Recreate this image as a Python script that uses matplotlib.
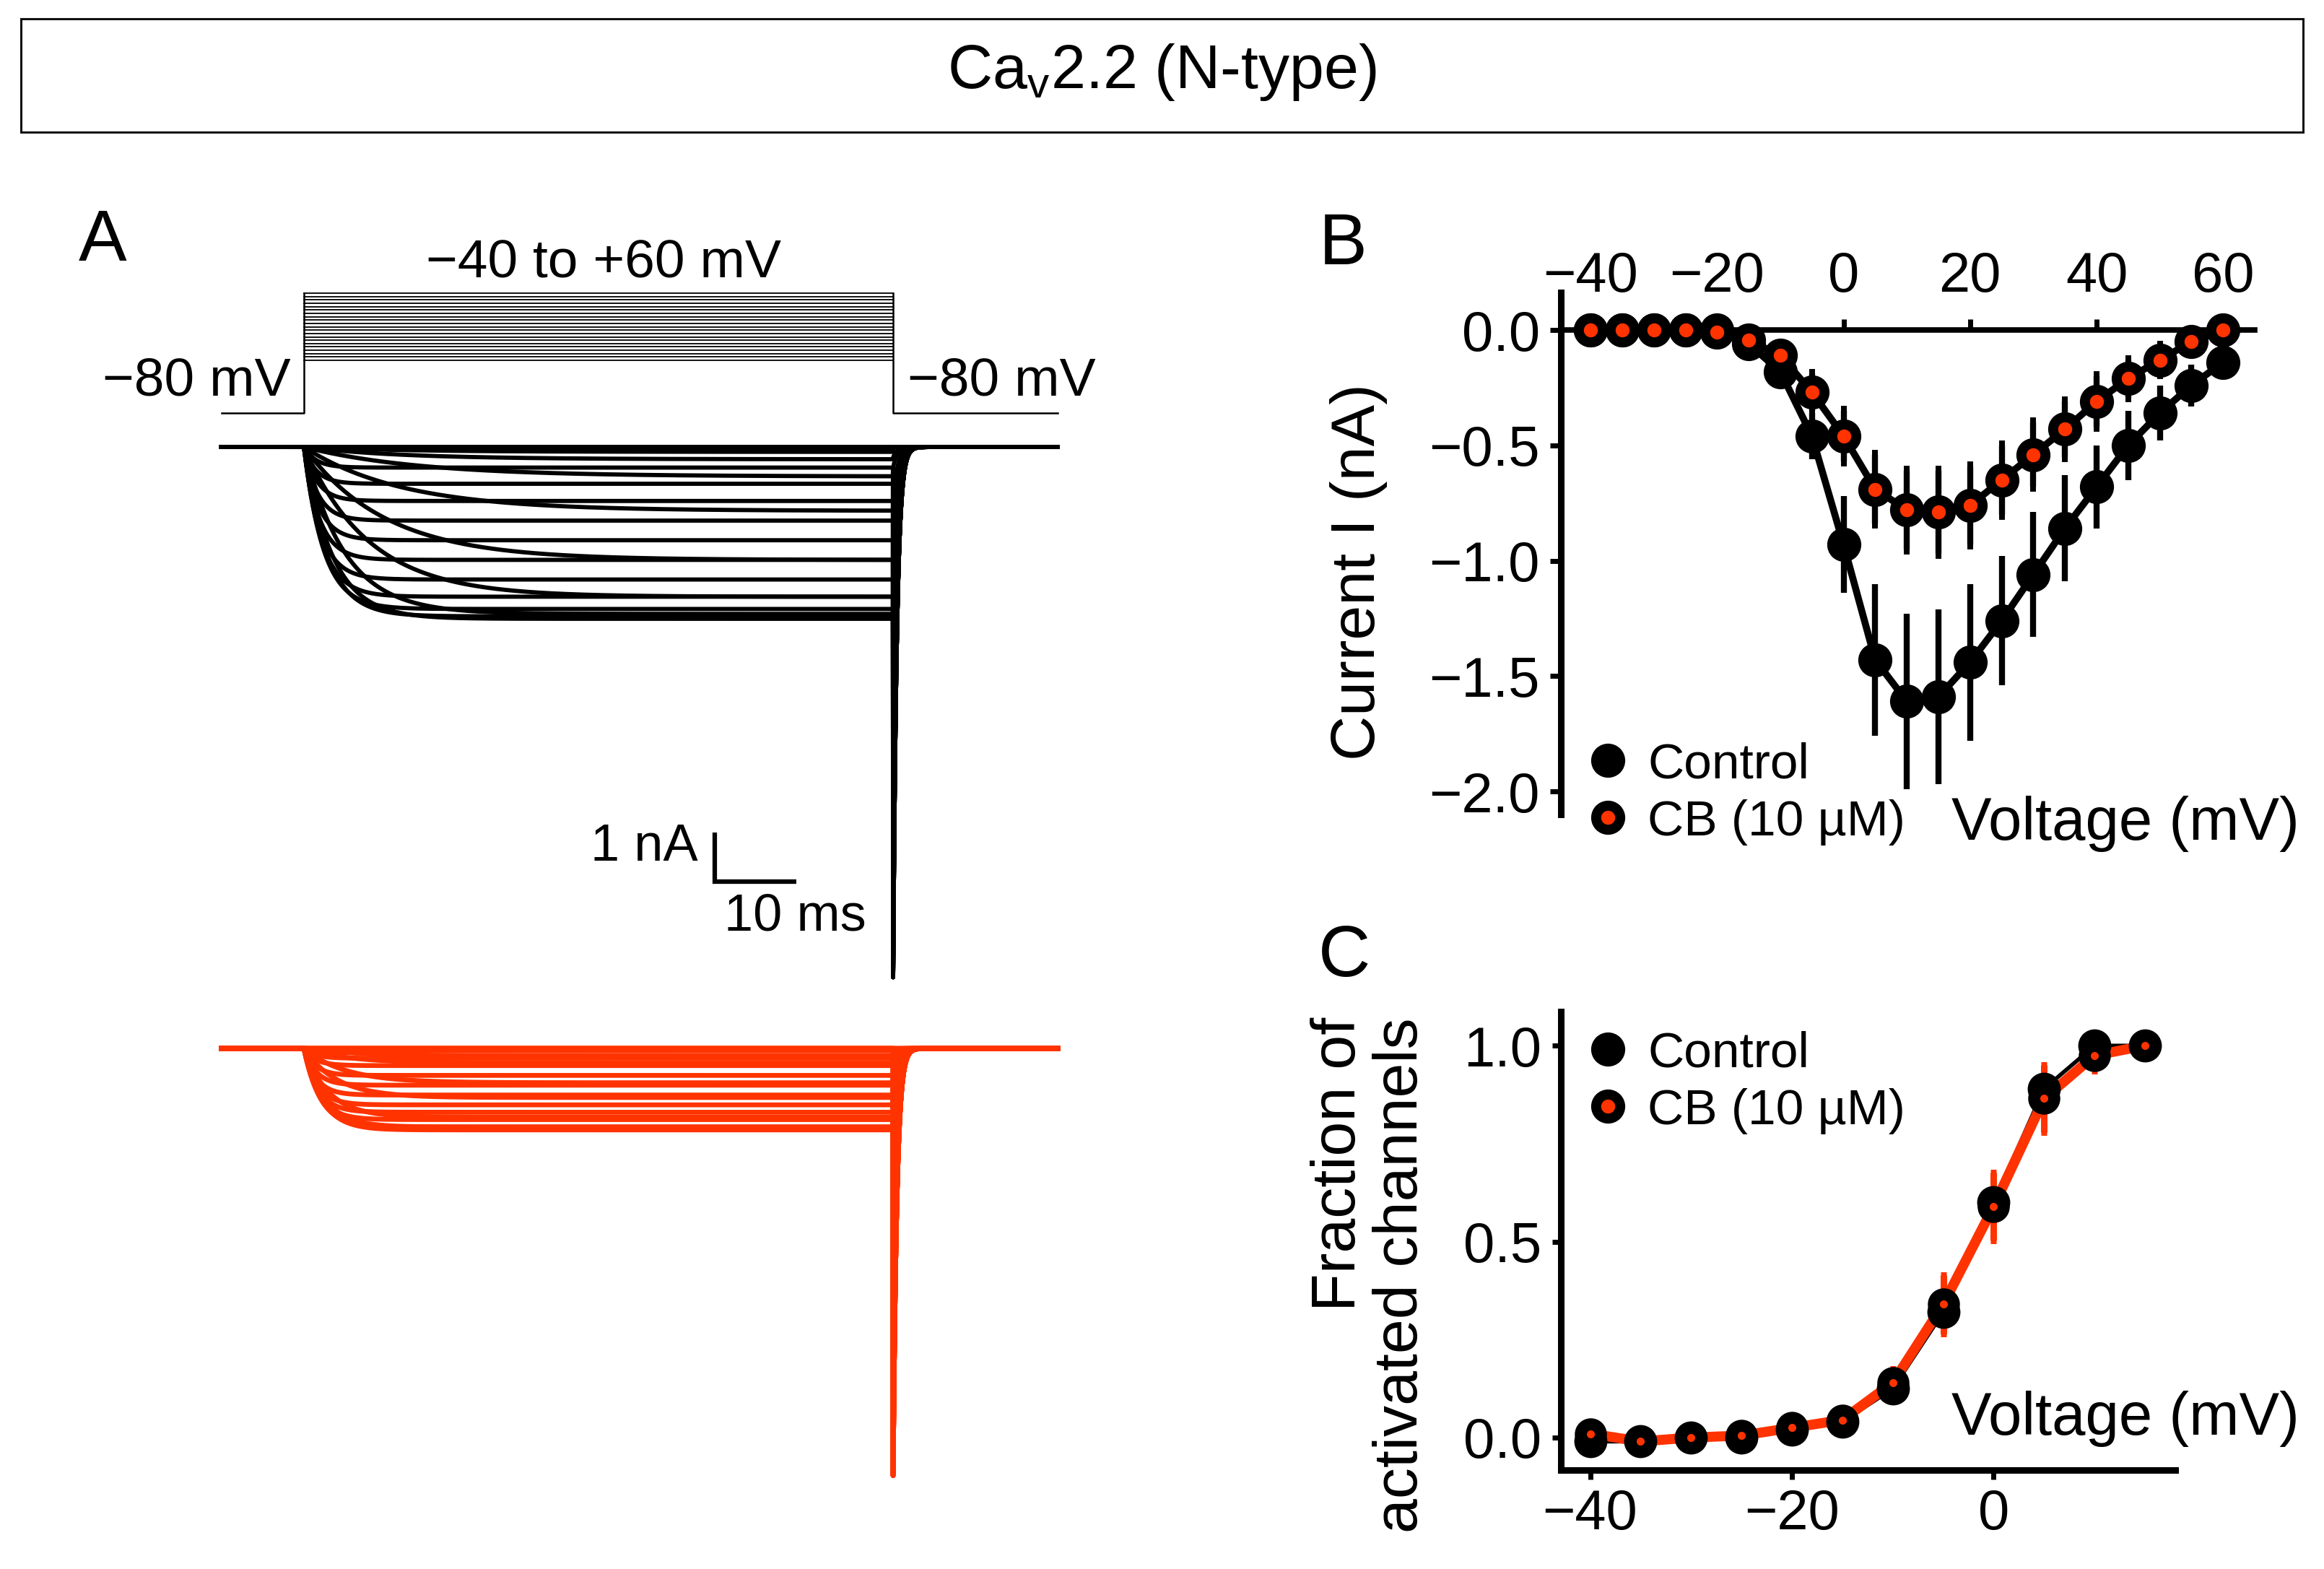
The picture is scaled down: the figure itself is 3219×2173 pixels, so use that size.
import numpy as np
import matplotlib
matplotlib.use('Agg')
import matplotlib.pyplot as plt
from matplotlib.patches import Rectangle
from matplotlib.lines import Line2D

plt.rcParams['font.family'] = ['Liberation Sans', 'DejaVu Sans']
plt.rcParams['mathtext.fontset'] = 'custom'
plt.rcParams['mathtext.rm'] = 'Liberation Sans'
plt.rcParams['mathtext.it'] = 'Liberation Sans'

BLACK = '#000000'
ORANGE = '#ff3300'

W, H = 3219, 2173  # output size in pixels

# ---------------- data ----------------
# B: current-voltage relation (nA)
iv_volt = [-40, -35, -30, -25, -20, -15, -10, -5, 0, 5, 10,
           15, 20, 25, 30, 35, 40, 45, 50, 55, 60]
iv_ctrl = [0.0, 0.0, 0.0, 0.0, 0.0, -0.06, -0.18, -0.46, -0.93, -1.43, -1.61,
           -1.59, -1.44, -1.26, -1.06, -0.86, -0.68, -0.50, -0.36, -0.24, -0.14]
iv_ctrl_err = [0.0, 0.0, 0.0, 0.0, 0.01, 0.02, 0.04, 0.10, 0.21, 0.33, 0.38,
               0.38, 0.34, 0.28, 0.27, 0.23, 0.18, 0.15, 0.12, 0.09, 0.03]
iv_cb = [0.0, 0.0, 0.0, 0.0, -0.01, -0.045, -0.11, -0.27, -0.46, -0.69, -0.78,
         -0.79, -0.76, -0.65, -0.54, -0.43, -0.31, -0.21, -0.13, -0.05, 0.0]
iv_cb_err = [0.0, 0.0, 0.0, 0.0, 0.01, 0.02, 0.03, 0.08, 0.11, 0.15, 0.17,
             0.18, 0.17, 0.15, 0.14, 0.12, 0.11, 0.08, 0.06, 0.03, 0.01]

# C: fraction of activated channels
act_volt = [-40, -35, -30, -25, -20, -15, -10, -5, 0, 5, 10, 15]
act_ctrl = [-0.01, -0.01, 0.0, 0.0, 0.02, 0.04, 0.125, 0.32, 0.60, 0.89, 1.0, 1.0]
act_ctrl_err = [0.01, 0.01, 0.01, 0.01, 0.01, 0.01, 0.03, 0.05, 0.06, 0.05, 0.03, 0.01]
act_cb = [0.01, -0.01, 0.0, 0.005, 0.025, 0.045, 0.14, 0.34, 0.59, 0.865, 0.975, 1.0]
act_cb_err = [0.01, 0.01, 0.01, 0.01, 0.02, 0.01, 0.035, 0.075, 0.087, 0.085, 0.04, 0.01]

# A: example traces, steady amplitude (nA) and activation time constant (ms) per step
step_volt = iv_volt
trace_ctrl_amp = [0.0, 0.0, 0.03, 0.10, 0.25, 0.60, 1.30, 2.30, 3.05, 3.40, 3.50,
                  3.45, 3.30, 3.05, 2.70, 2.30, 1.90, 1.50, 1.10, 0.75, 0.42]
trace_ctrl_tau = [5.0, 5.0, 12.0, 12.0, 12.0, 14.0, 12.0, 10.0, 8.0, 5.0, 3.5,
                  2.8, 2.4, 2.2, 2.0, 1.9, 1.8, 1.7, 1.6, 1.5, 1.5]
trace_cb_amp = [0.0, 0.0, 0.0, 0.0, 0.05, 0.15, 0.30, 0.70, 1.00, 1.40, 1.60,
                1.66, 1.60, 1.45, 1.30, 1.15, 0.95, 0.75, 0.55, 0.35, 0.20]
trace_cb_tau = [4.0, 4.0, 6.0, 6.0, 6.0, 6.0, 5.5, 5.0, 4.0, 3.0, 2.5,
                2.2, 2.0, 1.8, 1.7, 1.6, 1.5, 1.5, 1.4, 1.4, 1.4]
tail_ctrl_peak = 10.8   # nA
tail_cb_peak = 8.7      # nA
tail_tau = 0.45         # ms

T_PRE, T_STEP, T_POST = 10.1, 72.2, 20.2   # ms

fig = plt.figure(figsize=(W / 100, H / 100), dpi=100)


def fx(px):
    return px / W


def fy(py):
    return 1 - py / H


# ---------------- title box ----------------
fig.patches.append(Rectangle((fx(29), fy(183)), fx(3190) - fx(29), fy(26) - fy(183),
                             transform=fig.transFigure, fill=False, lw=2.2,
                             edgecolor='#111111'))
fig.text(0.5, fy(100), r'Ca$_\mathrm{v}$2.2 (N-type)', ha='center', va='center',
         fontsize=62)

# panel letters
fig.text(fx(142), fy(335), 'A', ha='center', va='center', fontsize=72)
fig.text(fx(1860), fy(340), 'B', ha='center', va='center', fontsize=72)
fig.text(fx(1862), fy(1326), 'C', ha='center', va='center', fontsize=72)

# ---------------- A: traces ----------------
axA = fig.add_axes([fx(290), fy(2100), fx(1500) - fx(290), fy(380) - fy(2100)])
axA.set_xlim(-11.59, 95.49)
axA.set_ylim(-21.78, 3.515)
axA.set_axis_off()

t = np.arange(-T_PRE, T_STEP + T_POST, 0.02)
cb_offset = -12.25


def make_trace(amp, tau, tail_amp):
    i = np.zeros_like(t)
    on = (t >= 0) & (t < T_STEP)
    i[on] = -amp * (1 - np.exp(-t[on] / tau))
    off = t >= T_STEP
    t_off = t[off] - t[off][0]
    i[off] = -tail_amp * np.exp(-t_off / tail_tau)
    return i


for v, a, tau in zip(step_volt, trace_ctrl_amp, trace_ctrl_tau):
    frac = np.clip(np.interp(v, act_volt, act_ctrl), 0, 1)
    axA.plot(t, make_trace(a, tau, tail_ctrl_peak * frac), color=BLACK, lw=4.2,
             solid_joinstyle='round')
for v, a, tau in zip(step_volt, trace_cb_amp, trace_cb_tau):
    frac = np.clip(np.interp(v, act_volt, act_cb), 0, 1)
    axA.plot(t, cb_offset + make_trace(a, tau, tail_cb_peak * frac), color=ORANGE,
             lw=4.8, solid_joinstyle='round')

# voltage protocol (schematic levels)
hold_y, step_lo, step_hi = 0.69, 1.765, 3.13
step_levels = np.linspace(step_lo, step_hi, len(step_volt))
for yv in step_levels:
    axA.plot([0, T_STEP], [yv, yv], color=BLACK, lw=1.3)
axA.plot([-T_PRE, 0, 0], [hold_y, hold_y, step_hi], color=BLACK, lw=1.8)
axA.plot([T_STEP, T_STEP, T_STEP + T_POST], [step_hi, hold_y, hold_y], color=BLACK, lw=1.8)
axA.text(-1.6, 1.34, '\u221280 mV', ha='right', va='center', fontsize=54)
axA.text(74.0, 1.34, '\u221280 mV', ha='left', va='center', fontsize=54)
axA.text(36.7, 3.74, '\u221240 to +60 mV', ha='center', va='center', fontsize=54)

# scale bar
sb_x, sb_y = 50.4, -8.85
axA.plot([sb_x, sb_x, sb_x + 10], [sb_y + 1, sb_y, sb_y], color=BLACK, lw=4.5,
         solid_capstyle='butt', solid_joinstyle='miter')
axA.text(sb_x - 2.1, sb_y + 0.7, '1 nA', ha='right', va='center', fontsize=52)
axA.text(sb_x + 9.8, sb_y - 0.72, '10 ms', ha='center', va='center', fontsize=52)

# ---------------- B: I-V ----------------
axB = fig.add_axes([fx(2162), fy(1128), fx(3123) - fx(2162), fy(405) - fy(1128)])
axB.set_xlim(-44.7, 65.0)
axB.set_ylim(-2.10, 0.163)
for s in ['right', 'bottom']:
    axB.spines[s].set_visible(False)
axB.spines['top'].set_position(('data', 0))
axB.spines['top'].set_linewidth(5.5)
axB.spines['left'].set_linewidth(6.5)
axB.xaxis.tick_top()
axB.set_xticks([-40, -20, 0, 20, 40, 60])
axB.set_yticks([0.0, -0.5, -1.0, -1.5, -2.0])
axB.set_yticklabels(['0.0', '\u22120.5', '\u22121.0', '\u22121.5', '\u22122.0'])
axB.tick_params(axis='x', labelsize=56, length=11, width=5, pad=16)
axB.tick_params(axis='y', labelsize=56, length=11, width=5, pad=10)
axB.patch.set_visible(False)

axB.errorbar(iv_volt, iv_ctrl, yerr=iv_ctrl_err, fmt='-o', color=BLACK, lw=7,
             ms=34, mew=0, elinewidth=6, capsize=3, capthick=6, zorder=3)
axB.errorbar(iv_volt, iv_cb, yerr=iv_cb_err, fmt='-o', color=BLACK, lw=7,
             ms=24, mfc=ORANGE, mec=BLACK, mew=10, ecolor=BLACK,
             elinewidth=6, capsize=3, capthick=6, zorder=4)
axB.set_ylabel('Current I (nA)', fontsize=62)
axB.yaxis.set_label_coords((1922 - 2162) / (3123 - 2162), (1128 - 792) / (1128 - 405))

h_ctrl = Line2D([], [], ls='none', marker='o', ms=34, mfc=BLACK, mec=BLACK, mew=0)
h_cb = Line2D([], [], ls='none', marker='o', ms=24, mfc=ORANGE, mec=BLACK, mew=10)
legB = axB.legend([h_ctrl, h_cb], ['Control', 'CB (10 \u00b5M)'], loc='center left',
                  bbox_to_anchor=(fx(2192), fy(1099)), bbox_transform=fig.transFigure,
                  frameon=False, fontsize=50, handlelength=1.0, handletextpad=0.3,
                  labelspacing=0.22, borderpad=0, borderaxespad=0)
fig.text(fx(3185), fy(1163), 'Voltage (mV)', ha='right', va='baseline', fontsize=60)

# ---------------- C: activation ----------------
axC = fig.add_axes([fx(2162), fy(2036), fx(3013) - fx(2162), fy(1401) - fy(2036)])
axC.set_xlim(-42.9, 18.0)
axC.set_ylim(-0.083, 1.087)
for s in ['right', 'top']:
    axC.spines[s].set_visible(False)
axC.spines['bottom'].set_linewidth(6.5)
axC.spines['left'].set_linewidth(6.5)
axC.set_xticks([-40, -20, 0])
axC.set_yticks([0.0, 0.5, 1.0])
axC.tick_params(axis='both', labelsize=56, length=9, width=5)
axC.tick_params(axis='x', pad=9)
axC.tick_params(axis='y', pad=10)
axC.patch.set_visible(False)

axC.plot(act_volt, act_ctrl, color=BLACK, lw=4, zorder=1)
axC.plot(act_volt, act_cb, color=ORANGE, lw=10, zorder=2)
axC.errorbar(act_volt, act_ctrl, yerr=act_ctrl_err, fmt='none', ecolor=BLACK,
             elinewidth=5, capsize=3, capthick=5, zorder=3)
axC.errorbar(act_volt, act_cb, yerr=act_cb_err, fmt='none', ecolor=ORANGE,
             elinewidth=6.5, capsize=3, capthick=6.5, zorder=3)
axC.plot(act_volt, act_ctrl, ls='none', marker='o', ms=33, mfc=BLACK, mec=BLACK,
         mew=0, zorder=4)
axC.plot(act_volt, act_cb, ls='none', marker='o', ms=20, mfc=ORANGE, mec=BLACK,
         mew=12, zorder=5)
axC.set_ylabel('Fraction of\nactivated channels', fontsize=62, multialignment='right',
               linespacing=1.1)
axC.yaxis.set_label_coords((1981 - 2162) / (3013 - 2162), (2036 - 1766) / (2036 - 1401))

legC = axC.legend([h_ctrl, h_cb], ['Control', 'CB (10 \u00b5M)'], loc='center left',
                  bbox_to_anchor=(fx(2192), fy(1499)), bbox_transform=fig.transFigure,
                  frameon=False, fontsize=50, handlelength=1.0, handletextpad=0.3,
                  labelspacing=0.22, borderpad=0, borderaxespad=0)
fig.text(fx(3185), fy(1987), 'Voltage (mV)', ha='right', va='baseline', fontsize=60)

fig.savefig('out.png', dpi=100, facecolor='white')
